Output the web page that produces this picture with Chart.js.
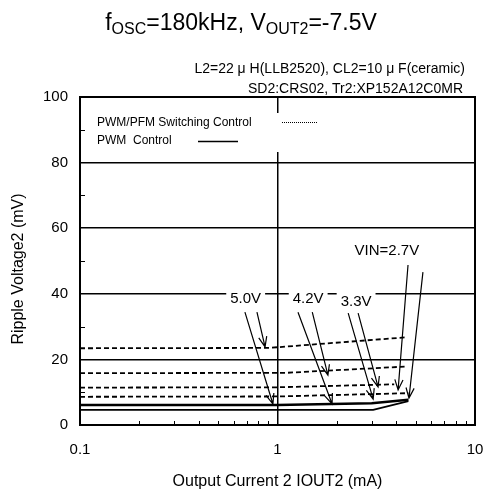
<!DOCTYPE html>
<html><head><meta charset="utf-8">
<script src="https://cdn.jsdelivr.net/npm/chart.js@4/dist/chart.umd.min.js"></script>
<style>html,body{margin:0;padding:0;background:#fff;}canvas{display:block;}</style>
</head><body>
<canvas id="c" width="486" height="492"></canvas>
<script>
// ---- data ----
const xTickValues = [0.1, 1, 10];
const xTickLabels = ['0.1', '1', '10'];
const yTickValues = [0, 20, 40, 60, 80, 100];
const vinLabels = ['5.0V', '4.2V', '3.3V', 'VIN=2.7V'];

// PWM/PFM switching control (dotted) — current (mA) / ripple (mV)
const pfm50x = [0.1, 0.9, 4.4];   const pfm50y = [23.4, 23.5, 26.7];
const pfm42x = [0.1, 1.1, 4.4];   const pfm42y = [15.8, 15.9, 17.8];
const pfm33x = [0.1, 1.0, 3.9];   const pfm33y = [11.4, 11.5, 12.4];
const pfm27x = [0.1, 1.0, 4.6];   const pfm27y = [8.6, 8.7, 9.7];
// PWM control (solid)
const pwmAx = [0.1, 1.0, 3.0, 4.6]; const pwmAy = [6.1, 6.1, 6.6, 7.7];
const pwmBx = [0.1, 3.05, 4.6];     const pwmBy = [4.6, 4.6, 7.3];

// annotation arrows: [fromX, fromY, toX, toY] in data units
const arrows = [
  [0.684, 34.4, 0.948, 6.4], [0.787, 34.4, 0.865, 23.8],
  [1.27, 34.4, 1.89, 6.4],   [1.50, 34.4, 1.80, 15.2],
  [2.28, 34.1, 3.05, 7.9],   [2.56, 34.1, 3.23, 11.6],
  [4.58, 48.8, 4.08, 10.7],  [5.45, 46.6, 4.63, 8.2]
];
// annotation label anchors (data units)
const labelX = [0.69, 1.43, 2.50, 3.58];
const labelY = [38.7, 38.7, 37.8, 53.4];

const minorX = [0.2,0.3,0.4,0.5,0.6,0.7,0.8,0.9,2,3,4,5,6,7,8,9];
const minorY = [10,30,50,70,90];

const FONT = 'Liberation Sans, Arial, sans-serif';
const pts = (xs, ys) => xs.map((x, i) => ({x, y: ys[i]}));
const dashed = (xs, ys) => ({data: pts(xs, ys), borderColor:'#000', borderWidth:1.8, borderDash:[5,3], pointRadius:0, fill:false, tension:0});
const solid = (xs, ys, w) => ({data: pts(xs, ys), borderColor:'#000', borderWidth:w, pointRadius:0, fill:false, tension:0});

const deco = {
  id: 'deco',
  afterDraw(chart) {
    const ctx = chart.ctx, a = chart.chartArea, xs = chart.scales.x, ys = chart.scales.y;
    ctx.save();
    // minor ticks
    ctx.strokeStyle = '#000'; ctx.lineWidth = 1;
    minorX.forEach(v => { const px = Math.round(xs.getPixelForValue(v)) + 0.5;
      ctx.beginPath(); ctx.moveTo(px, a.bottom); ctx.lineTo(px, a.bottom - 4); ctx.stroke(); });
    minorY.forEach(v => { const py = Math.round(ys.getPixelForValue(v)) + 0.5;
      ctx.beginPath(); ctx.moveTo(a.left, py); ctx.lineTo(a.left + 5, py); ctx.stroke(); });
    // frame
    ctx.lineWidth = 2; ctx.strokeRect(a.left, a.top, a.right - a.left, a.bottom - a.top);

    // legend box
    const lx = a.left + 5, ly = a.top + 16;
    ctx.fillStyle = '#fff'; ctx.fillRect(lx, ly, 250, 39);
    ctx.fillStyle = '#000'; ctx.font = '12px ' + FONT; ctx.textBaseline = 'middle'; ctx.textAlign = 'left';
    ctx.fillText('PWM/PFM Switching Control', a.left + 17, a.top + 26);
    ctx.fillText('PWM  Control', a.left + 17, a.top + 44);
    ctx.lineWidth = 1; ctx.setLineDash([1, 1]);
    ctx.beginPath(); ctx.moveTo(a.left + 202, a.top + 25.5); ctx.lineTo(a.left + 237, a.top + 25.5); ctx.stroke();
    ctx.setLineDash([]); ctx.lineWidth = 1.5;
    ctx.beginPath(); ctx.moveTo(a.left + 118, a.top + 44.5); ctx.lineTo(a.left + 158, a.top + 44.5); ctx.stroke();

    // arrows
    ctx.lineWidth = 1.2; ctx.strokeStyle = '#000';
    arrows.forEach(([x0, y0, x1, y1]) => {
      const p0x = xs.getPixelForValue(x0), p0y = ys.getPixelForValue(y0);
      const p1x = xs.getPixelForValue(x1), p1y = ys.getPixelForValue(y1);
      const ang = Math.atan2(p1y - p0y, p1x - p0x), L = 11, h = 0.38;
      ctx.beginPath(); ctx.moveTo(p0x, p0y); ctx.lineTo(p1x, p1y);
      ctx.moveTo(p1x - L * Math.cos(ang - h), p1y - L * Math.sin(ang - h)); ctx.lineTo(p1x, p1y);
      ctx.lineTo(p1x - L * Math.cos(ang + h), p1y - L * Math.sin(ang + h));
      ctx.stroke();
    });
    // annotation labels
    ctx.font = '15px ' + FONT; ctx.textAlign = 'center'; ctx.textBaseline = 'middle';
    vinLabels.forEach((t, i) => {
      const px = xs.getPixelForValue(labelX[i]), py = ys.getPixelForValue(labelY[i]);
      const w = ctx.measureText(t).width;
      ctx.fillStyle = '#fff'; ctx.fillRect(px - w / 2 - 4, py - 9, w + 8, 18);
      ctx.fillStyle = '#000'; ctx.fillText(t, px, py + 1);
    });

    // title with subscripts
    const parts = [['f', 23, 0], ['OSC', 16, 4], ['=180kHz, V', 23, 0], ['OUT2', 16, 4], ['=-7.5V', 23, 0]];
    let tw = 0; parts.forEach(p => { ctx.font = p[1] + 'px ' + FONT; tw += ctx.measureText(p[0]).width; });
    let tx = 241 - tw / 2; ctx.textAlign = 'left'; ctx.textBaseline = 'alphabetic';
    parts.forEach(p => { ctx.font = p[1] + 'px ' + FONT; ctx.fillText(p[0], tx, 30 + p[2]); tx += ctx.measureText(p[0]).width; });
    // subtitle
    ctx.font = '14px ' + FONT; ctx.textAlign = 'right';
    ctx.fillText('L2=22 \u03bc H(LLB2520), CL2=10 \u03bc F(ceramic)', 465, 73);
    ctx.fillText('SD2:CRS02, Tr2:XP152A12C0MR', 463, 93);
    // axis titles
    ctx.font = '16px ' + FONT; ctx.textAlign = 'center'; ctx.textBaseline = 'middle';
    ctx.fillText('Output Current 2 IOUT2 (mA)', (a.left + a.right) / 2, 482);
    ctx.translate(19, (a.top + a.bottom) / 2 + 8); ctx.rotate(-Math.PI / 2);
    ctx.fillText('Ripple Voltage2 (mV)', 0, 0);
    ctx.restore();
  }
};

new Chart(document.getElementById('c'), {
  type: 'line',
  data: { datasets: [
    dashed(pfm50x, pfm50y), dashed(pfm42x, pfm42y), dashed(pfm33x, pfm33y), dashed(pfm27x, pfm27y),
    solid(pwmAx, pwmAy, 2.5), solid(pwmBx, pwmBy, 1.8)
  ]},
  options: {
    responsive: false, animation: false, devicePixelRatio: 1,
    layout: { padding: { left: 0, right: 11, top: 97, bottom: 0 } },
    plugins: { legend: { display: false }, tooltip: { enabled: false }, title: { display: false } },
    scales: {
      x: { type: 'logarithmic', min: 0.1, max: 10,
        afterBuildTicks: s => { s.ticks = xTickValues.map(v => ({ value: v })); },
        afterFit: s => { s.height = 67; s.paddingLeft = 0; s.paddingRight = 0; },
        ticks: { callback: (v) => xTickLabels[xTickValues.indexOf(v)], font: { size: 15, family: FONT }, color: '#000', padding: 16, maxRotation: 0, autoSkip: false },
        grid: { color: c => (c.tick && c.tick.value === 1) ? '#000' : 'rgba(0,0,0,0)', lineWidth: 1.5, drawTicks: false },
        border: { display: false } },
      y: { type: 'linear', min: 0, max: 100,
        afterBuildTicks: s => { s.ticks = yTickValues.map(v => ({ value: v })); },
        afterFit: s => { s.width = 80; s.paddingTop = 0; s.paddingBottom = 0; },
        ticks: { font: { size: 15, family: FONT }, color: '#000', padding: 12 },
        grid: { color: c => (c.tick && (c.tick.value === 0 || c.tick.value === 100)) ? 'rgba(0,0,0,0)' : '#000', lineWidth: 1.5, drawTicks: false },
        border: { display: false } }
    }
  },
  plugins: [deco]
});
</script>
</body></html>
